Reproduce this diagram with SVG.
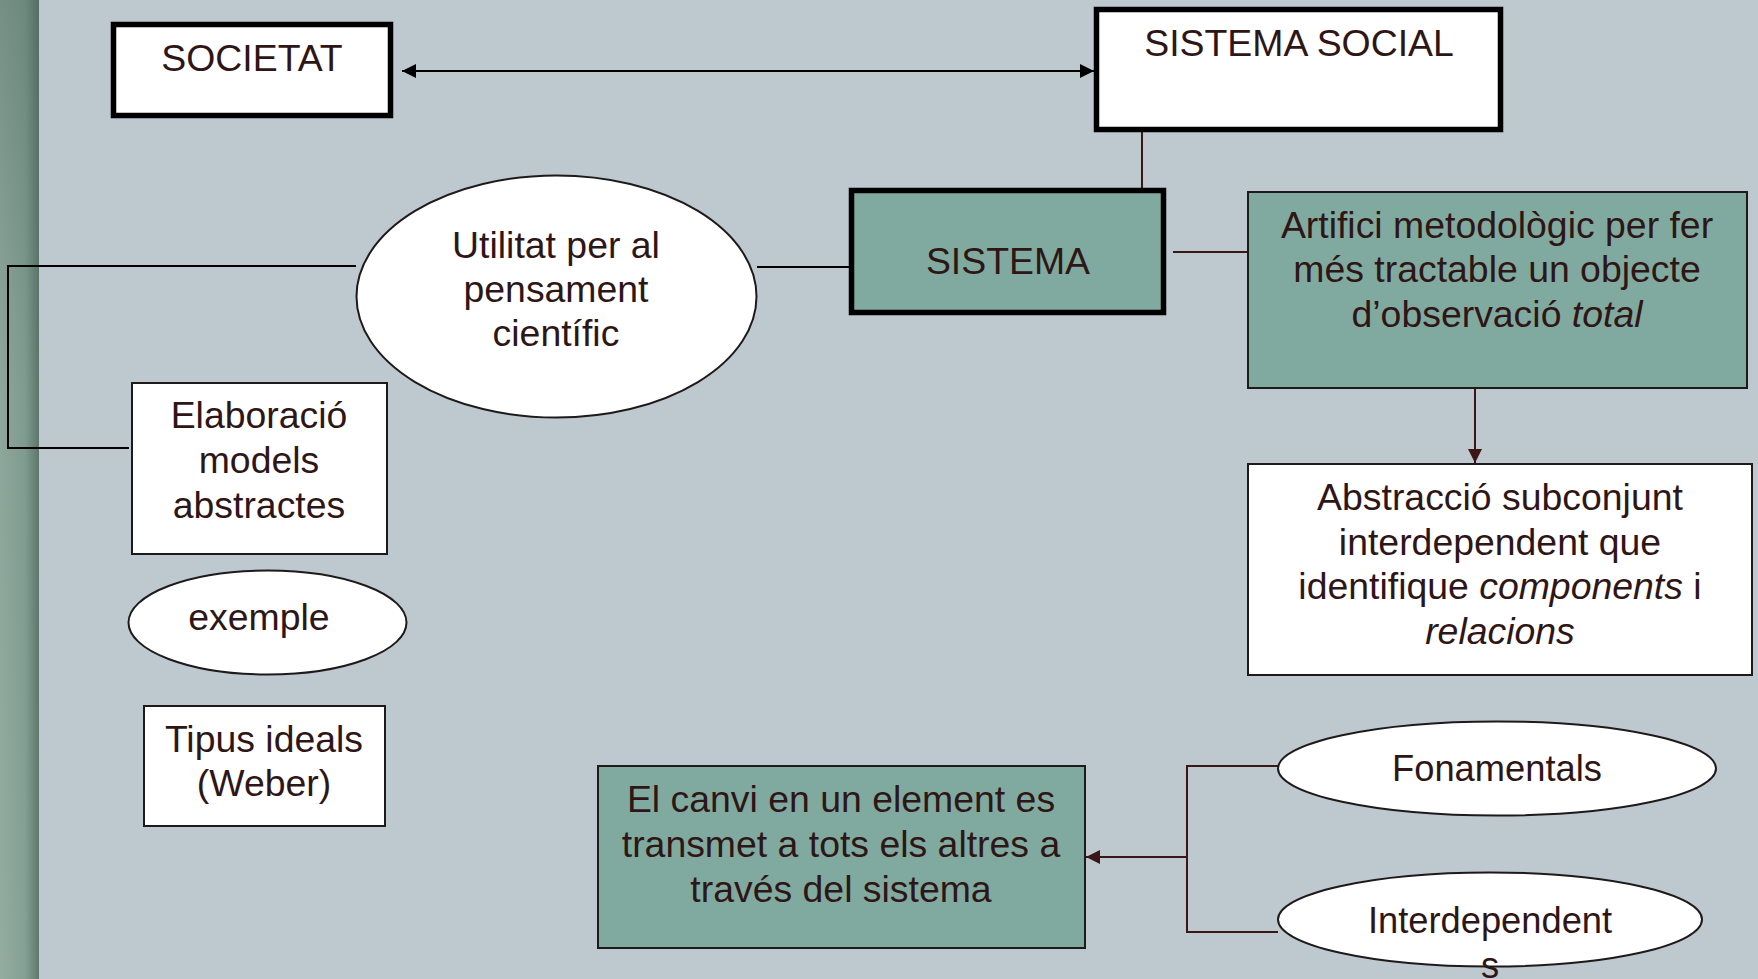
<svg xmlns="http://www.w3.org/2000/svg" width="1758" height="979" viewBox="0 0 1758 979">
<defs>
<linearGradient id="strip" x1="0" y1="0" x2="1" y2="0">
<stop offset="0" stop-color="#95ada1"/>
<stop offset="0.65" stop-color="#84a093"/>
<stop offset="1" stop-color="#5f786d"/>
</linearGradient>
<linearGradient id="stripV" x1="0" y1="0" x2="0" y2="1">
<stop offset="0" stop-color="#3f5a50" stop-opacity="0.35"/>
<stop offset="0.4" stop-color="#3f5a50" stop-opacity="0.08"/>
<stop offset="1" stop-color="#3f5a50" stop-opacity="0"/>
</linearGradient>
<marker id="ahB" viewBox="0 0 10 10" refX="10" refY="5" markerWidth="15" markerHeight="14" markerUnits="userSpaceOnUse" orient="auto-start-reverse">
<path d="M0,0 L10,5 L0,10 z" fill="#000"/>
</marker>
<marker id="ahR" viewBox="0 0 10 10" refX="10" refY="5" markerWidth="15" markerHeight="14" markerUnits="userSpaceOnUse" orient="auto">
<path d="M0,0 L10,5 L0,10 z" fill="#3a1616"/>
</marker>
</defs>
<style>
text { font-family: "Liberation Sans", Arial, sans-serif; fill: #2e1616; text-anchor: middle; font-size: 37.4px; }
.thick { stroke: #000; stroke-width: 5.5; }
.thin { stroke: #1e1a1a; stroke-width: 2; }
.white { fill: #ffffff; }
.teal { fill: #80aa9f; }
.conn { fill: none; stroke: #3a1616; stroke-width: 2; }
.connK { fill: none; stroke: #000; stroke-width: 2; }
.it { font-style: italic; }
.sm { font-size: 36.3px; }
</style>
<rect x="0" y="0" width="1758" height="979" fill="#bdc8cf"/>
<rect x="0" y="0" width="39" height="979" fill="url(#strip)"/>
<rect x="0" y="0" width="39" height="979" fill="url(#stripV)"/>

<g id="connectors">
<line class="connK" x1="402" y1="71" x2="1094" y2="71" marker-start="url(#ahB)" marker-end="url(#ahB)"/>
<line class="conn" x1="1142" y1="132" x2="1142" y2="189"/>
<line class="conn" x1="1173" y1="252" x2="1248" y2="252"/>
<line class="connK" x1="757" y1="267" x2="849" y2="267"/>
<polyline class="connK" points="356,266 8,266 8,448 129,448"/>
<line class="conn" x1="1475" y1="388" x2="1475" y2="463" marker-end="url(#ahR)"/>
<polyline class="conn" points="1278,766 1187,766 1187,932 1278,932"/>
<line class="conn" x1="1187" y1="857" x2="1086" y2="857" marker-end="url(#ahR)"/>
</g>

<g id="societat">
<rect class="thick white" x="113.5" y="24.5" width="277" height="91"/>
<text x="252" y="71">SOCIETAT</text>
</g>

<g id="sistema-social">
<rect class="thick white" x="1096.5" y="9.5" width="404" height="120"/>
<text x="1299" y="56" font-size="38.6">SISTEMA SOCIAL</text>
</g>

<g id="sistema">
<rect class="thick teal" x="851.5" y="190.5" width="312" height="122"/>
<text x="1008" y="274">SISTEMA</text>
</g>

<g id="utilitat">
<ellipse class="thin white" cx="556.5" cy="296.5" rx="200" ry="121"/>
<text x="556" y="258">Utilitat per al</text>
<text x="556" y="302">pensament</text>
<text x="556" y="346">científic</text>
</g>

<g id="artifici">
<rect class="thin teal" x="1248" y="192" width="499" height="196"/>
<text x="1497" y="238">Artifici metodològic per fer</text>
<text x="1497" y="282">més tractable un objecte</text>
<text x="1497" y="327">d’observació <tspan class="it">total</tspan></text>
</g>

<g id="abstraccio">
<rect class="thin white" x="1248" y="464" width="504" height="211"/>
<text x="1500" y="510">Abstracció subconjunt</text>
<text x="1500" y="555">interdependent que</text>
<text x="1500" y="599">identifique <tspan class="it">components</tspan> i</text>
<text x="1500" y="644" class="it">relacions</text>
</g>

<g id="elaboracio">
<rect class="thin white" x="132" y="383" width="255" height="171"/>
<text x="259" y="428">Elaboració</text>
<text x="259" y="473">models</text>
<text x="259" y="518">abstractes</text>
</g>

<g id="exemple">
<ellipse class="thin white" cx="267.5" cy="622.5" rx="139" ry="52"/>
<text x="259" y="630">exemple</text>
</g>

<g id="tipus">
<rect class="thin white" x="144" y="706" width="241" height="120"/>
<text x="264" y="752">Tipus ideals</text>
<text x="264" y="796">(Weber)</text>
</g>

<g id="canvi">
<rect class="thin teal" x="598" y="766" width="487" height="182"/>
<text x="841" y="812">El canvi en un element es</text>
<text x="841" y="857">transmet a tots els altres a</text>
<text x="841" y="902">través del sistema</text>
</g>

<g id="fonamentals">
<ellipse class="thin white" cx="1497" cy="768.5" rx="219" ry="47"/>
<text class="sm" x="1497" y="781">Fonamentals</text>
</g>

<g id="interdependents">
<ellipse class="thin white" cx="1490" cy="919.5" rx="212" ry="47"/>
<text class="sm" x="1490" y="933">Interdependent</text>
<text class="sm" x="1490" y="978">s</text>
</g>
</svg>
